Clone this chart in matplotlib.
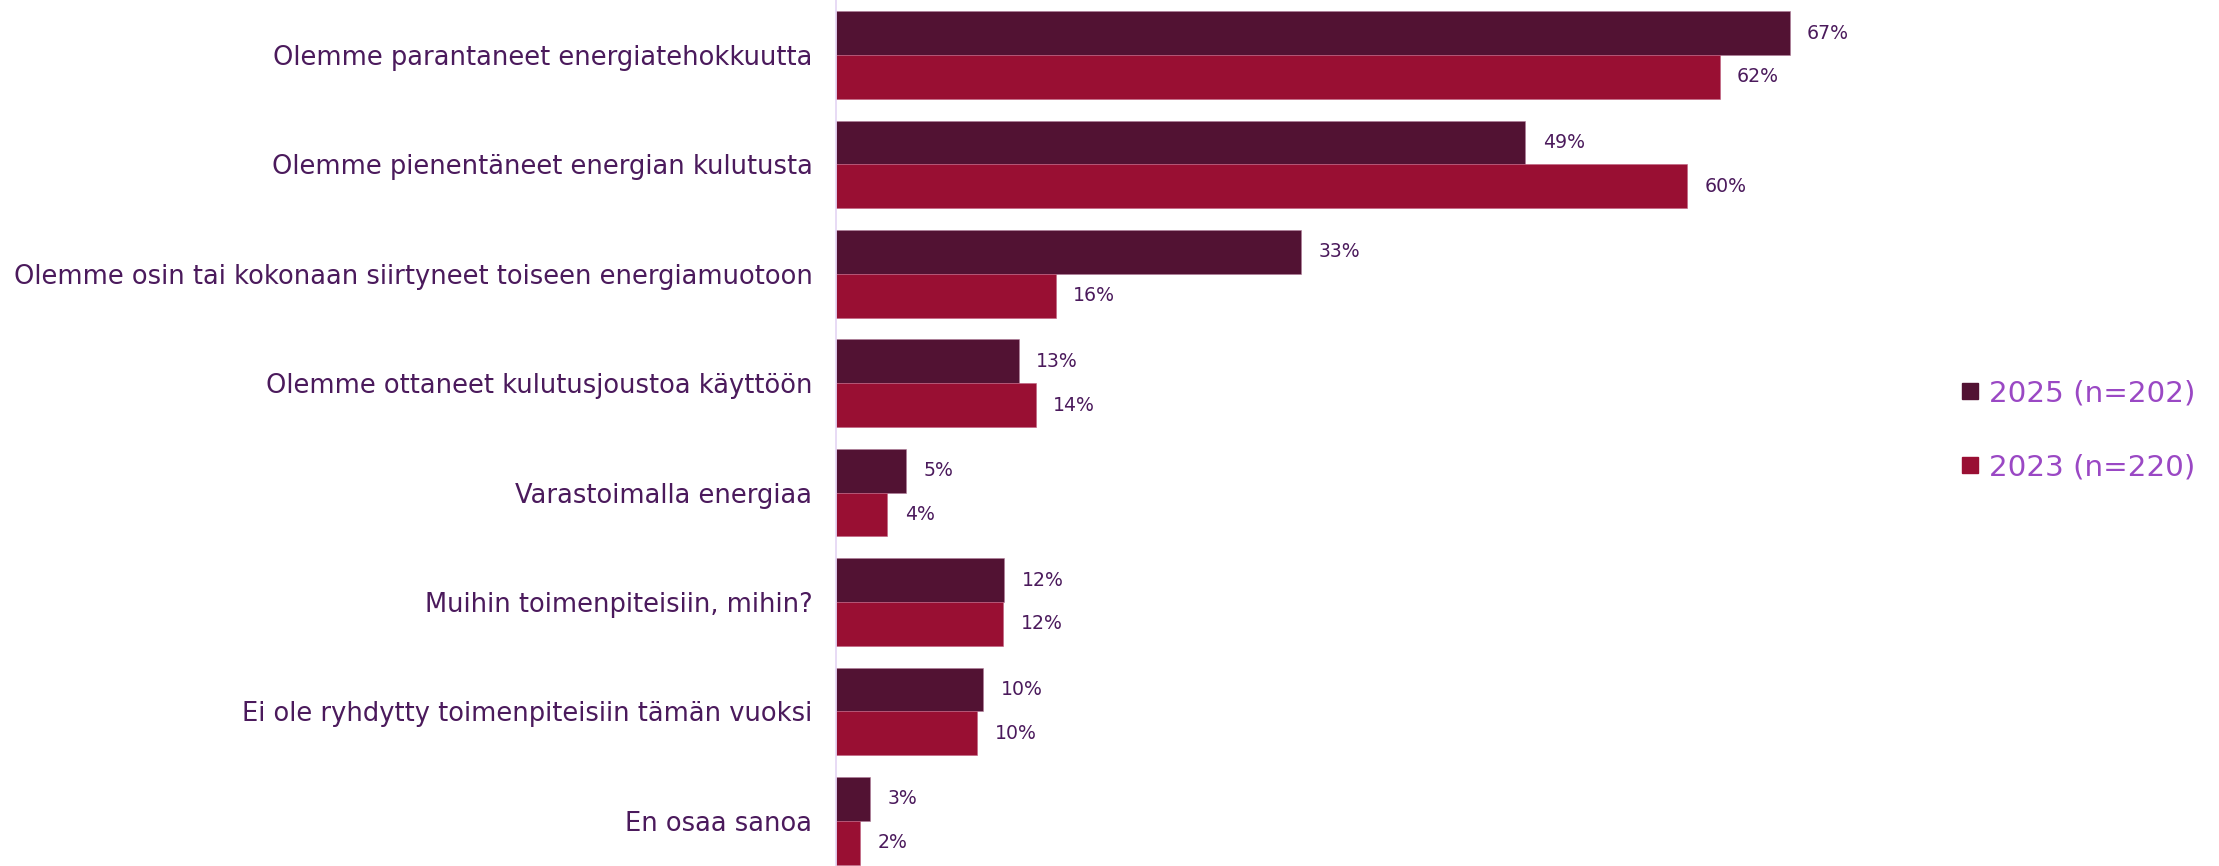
import numpy as np
import matplotlib
matplotlib.use("Agg")
import matplotlib.pyplot as plt
from matplotlib.lines import Line2D

categories = [
    "Olemme parantaneet energiatehokkuutta",
    "Olemme pienentäneet energian kulutusta",
    "Olemme osin tai kokonaan siirtyneet toiseen energiamuotoon",
    "Olemme ottaneet kulutusjoustoa käyttöön",
    "Varastoimalla energiaa",
    "Muihin toimenpiteisiin, mihin?",
    "Ei ole ryhdytty toimenpiteisiin tämän vuoksi",
    "En osaa sanoa",
]
# bar lengths (labels are the printed rounded values)
values_2025 = [66.8, 48.3, 32.6, 12.8, 4.9, 11.8, 10.3, 2.4]
values_2023 = [61.9, 59.6, 15.4, 14.0, 3.6, 11.7, 9.9, 1.7]
labels_2025 = ["67%", "49%", "33%", "13%", "5%", "12%", "10%", "3%"]
labels_2023 = ["62%", "60%", "16%", "14%", "4%", "12%", "10%", "2%"]
series_labels = ["2025 (n=202)", "2023 (n=220)"]

COLOR_2025 = "#521233"
COLOR_2023 = "#990f33"
TEXT_COLOR = "#4b1a5c"
LEGEND_TEXT = "#9a48c4"

plt.rcParams['font.family'] = ['DejaVu Sans']

W, H = 2219, 866
fig = plt.figure(figsize=(W / 100, H / 100), dpi=100)
px_per_pct = 14.275
ax_left = 836 / W
ax_width = 1065 / W
ax = fig.add_axes([ax_left, 0, ax_width, 1])

y = np.arange(len(categories))
bar_h = 0.4
bars_a = ax.barh(y - bar_h / 2, values_2025, height=bar_h, color=COLOR_2025,
                 edgecolor="#b07a98", linewidth=0.4)
bars_b = ax.barh(y + bar_h / 2, values_2023, height=bar_h, color=COLOR_2023,
                 edgecolor="#c06080", linewidth=0.4)

for bars, labs in ((bars_a, labels_2025), (bars_b, labels_2023)):
    for b, lab in zip(bars, labs):
        ax.annotate(lab, (b.get_width(), b.get_y() + b.get_height() / 2),
                    xytext=(12.5, 0), textcoords="offset points",
                    ha="left", va="center", fontsize=13.6, color=TEXT_COLOR)

ax.set_xlim(0, 1065 / px_per_pct)
ax.set_ylim(7.413, -0.503)
ax.set_yticks(y)
ax.set_yticklabels(categories, fontsize=18.5, color=TEXT_COLOR)
ax.tick_params(axis="y", length=0, pad=17)
ax.set_xticks([])
for side in ("top", "right", "bottom"):
    ax.spines[side].set_visible(False)
ax.spines["left"].set_color("#e4d4f4")
ax.spines["left"].set_linewidth(1.2)
ax.patch.set_alpha(0)

handles = [Line2D([], [], marker="s", linestyle="none", markersize=12,
                  markerfacecolor=c, markeredgecolor=c)
           for c in (COLOR_2025, COLOR_2023)]
leg = fig.legend(handles, series_labels, loc="center left",
                 bbox_to_anchor=(1946 / W, 0.503), frameon=False,
                 fontsize=21.2, labelcolor=LEGEND_TEXT, handlelength=0.6,
                 handletextpad=0.35, labelspacing=1.55, borderpad=0)

fig.savefig("out.png", dpi=100)
